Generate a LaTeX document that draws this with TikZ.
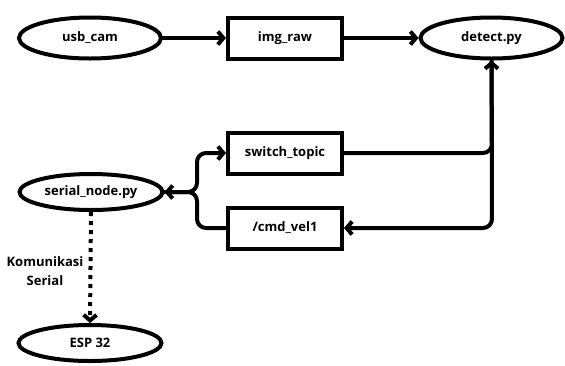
\documentclass[tikz,border=0pt]{standalone}
\usepackage{fontspec}
\setmainfont{Open Sans}
\usetikzlibrary{arrows.meta,shapes.geometric}
\begin{document}
\begin{tikzpicture}[x=1pt,y=-1pt,
  every node/.style={font=\fontsize{13}{15}\selectfont\bfseries},
  conn/.style={line width=4pt, line cap=round, line join=round},
  arr/.style={conn, -{Straight Barb[length=5.5pt,width=13pt,line width=4pt]}},
  ell/.style={draw, ellipse, line width=4pt, inner sep=0pt, minimum width=142pt, minimum height=41pt},
  box/.style={draw, rectangle, line width=4pt, inner sep=0pt, minimum width=114pt, minimum height=41pt}]
\useasboundingbox (0,0) rectangle (565,365);
\node[ell] (usb) at (90,38) {usb\_cam};
\node[box] (img) at (285,38) {img\_raw};
\node[ell] (det) at (491.5,38) {detect.py};
\node[box] (sw) at (285,153) {switch\_topic};
\node[box] (cmd) at (285,228) {/cmd\_vel1};
\node[ell, minimum height=36pt, minimum width=143pt] (ser) at (91,192) {serial\_node.py};
\node[ell, minimum height=36pt, minimum width=143pt] (esp) at (90,343) {ESP 32};
\node[font=\fontsize{13}{19}\selectfont\bfseries, align=center] (lbl) at (45,271) {Komunikasi\\Serial};
\coordinate (fk) at (197,192);
\coordinate (rt) at (492,153);
\coordinate (rb) at (492,228);
\draw[arr] (usb.east) -- (img.west);
\draw[arr] (img.east) -- (det.west);
\draw[arr, rounded corners=9pt] (sw.east) -- (rt) -- (det.south);
\draw[arr, rounded corners=9pt] (det.south) -- (rb) -- (cmd.east);
\draw[arr, rounded corners=9pt] (cmd.west) -- (fk |- cmd.west) -- (fk) -- (ser.east);
\draw[arr, rounded corners=9pt] (ser.east) -- (fk) -- (fk |- sw.west) -- (sw.west);
\draw[arr, dash pattern=on 4pt off 5pt, line cap=butt] (ser.south) -- (esp.north);
\end{tikzpicture}
\end{document}
